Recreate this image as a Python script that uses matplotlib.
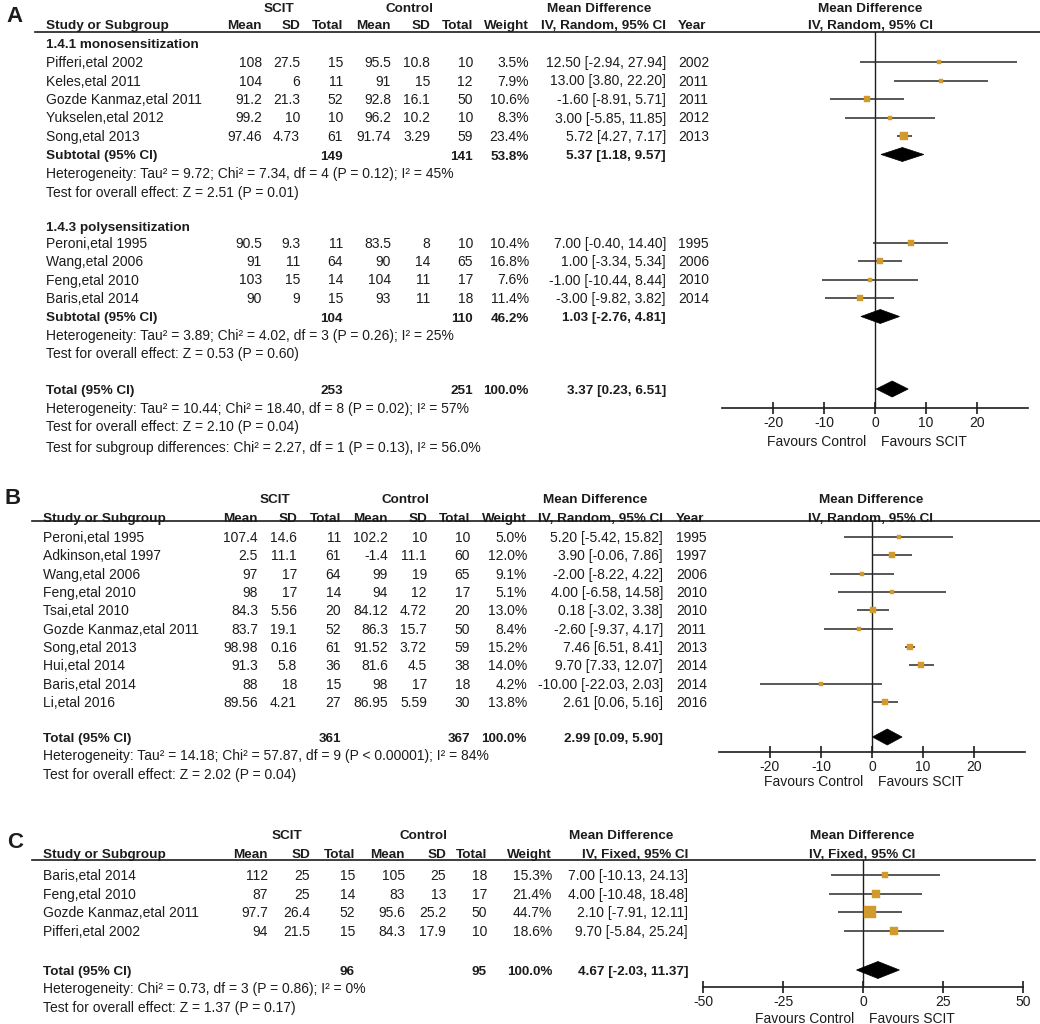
import matplotlib
matplotlib.use('Agg')
import matplotlib.pyplot as plt
from matplotlib.patches import Polygon

plt.rcParams['font.family'] = ['Liberation Sans', 'DejaVu Sans']

# ---------------- DATA ----------------
# Panel A, subgroup 1.4.1 monosensitization
a1_study = ["Pifferi,etal 2002", "Keles,etal 2011", "Gozde Kanmaz,etal 2011",
            "Yukselen,etal 2012", "Song,etal 2013"]
a1_scit_mean = [108, 104, 91.2, 99.2, 97.46]
a1_scit_sd = [27.5, 6, 21.3, 10, 4.73]
a1_scit_n = [15, 11, 52, 10, 61]
a1_ctrl_mean = [95.5, 91, 92.8, 96.2, 91.74]
a1_ctrl_sd = [10.8, 15, 16.1, 10.2, 3.29]
a1_ctrl_n = [10, 12, 50, 10, 59]
a1_weight = [3.5, 7.9, 10.6, 8.3, 23.4]
a1_md = [12.50, 13.00, -1.60, 3.00, 5.72]
a1_lo = [-2.94, 3.80, -8.91, -5.85, 4.27]
a1_hi = [27.94, 22.20, 5.71, 11.85, 7.17]
a1_year = [2002, 2011, 2011, 2012, 2013]
a1_sub = dict(n1=149, n2=141, w=53.8, md=5.37, lo=1.18, hi=9.57)
a1_het = "Heterogeneity: Tau² = 9.72; Chi² = 7.34, df = 4 (P = 0.12); I² = 45%"
a1_test = "Test for overall effect: Z = 2.51 (P = 0.01)"

# Panel A, subgroup 1.4.3 polysensitization
a2_study = ["Peroni,etal 1995", "Wang,etal 2006", "Feng,etal 2010", "Baris,etal 2014"]
a2_scit_mean = [90.5, 91, 103, 90]
a2_scit_sd = [9.3, 11, 15, 9]
a2_scit_n = [11, 64, 14, 15]
a2_ctrl_mean = [83.5, 90, 104, 93]
a2_ctrl_sd = [8, 14, 11, 11]
a2_ctrl_n = [10, 65, 17, 18]
a2_weight = [10.4, 16.8, 7.6, 11.4]
a2_md = [7.00, 1.00, -1.00, -3.00]
a2_lo = [-0.40, -3.34, -10.44, -9.82]
a2_hi = [14.40, 5.34, 8.44, 3.82]
a2_year = [1995, 2006, 2010, 2014]
a2_sub = dict(n1=104, n2=110, w=46.2, md=1.03, lo=-2.76, hi=4.81)
a2_het = "Heterogeneity: Tau² = 3.89; Chi² = 4.02, df = 3 (P = 0.26); I² = 25%"
a2_test = "Test for overall effect: Z = 0.53 (P = 0.60)"

a_total = dict(n1=253, n2=251, w=100.0, md=3.37, lo=0.23, hi=6.51)
a_het = "Heterogeneity: Tau² = 10.44; Chi² = 18.40, df = 8 (P = 0.02); I² = 57%"
a_test = "Test for overall effect: Z = 2.10 (P = 0.04)"
a_subdiff = "Test for subgroup differences: Chi² = 2.27, df = 1 (P = 0.13), I² = 56.0%"

# Panel B
b_study = ["Peroni,etal 1995", "Adkinson,etal 1997", "Wang,etal 2006", "Feng,etal 2010",
           "Tsai,etal 2010", "Gozde Kanmaz,etal 2011", "Song,etal 2013", "Hui,etal 2014",
           "Baris,etal 2014", "Li,etal 2016"]
b_scit_mean = [107.4, 2.5, 97, 98, 84.3, 83.7, 98.98, 91.3, 88, 89.56]
b_scit_sd = [14.6, 11.1, 17, 17, 5.56, 19.1, 0.16, 5.8, 18, 4.21]
b_scit_n = [11, 61, 64, 14, 20, 52, 61, 36, 15, 27]
b_ctrl_mean = [102.2, -1.4, 99, 94, 84.12, 86.3, 91.52, 81.6, 98, 86.95]
b_ctrl_sd = [10, 11.1, 19, 12, 4.72, 15.7, 3.72, 4.5, 17, 5.59]
b_ctrl_n = [10, 60, 65, 17, 20, 50, 59, 38, 18, 30]
b_weight = [5.0, 12.0, 9.1, 5.1, 13.0, 8.4, 15.2, 14.0, 4.2, 13.8]
b_md = [5.20, 3.90, -2.00, 4.00, 0.18, -2.60, 7.46, 9.70, -10.00, 2.61]
b_lo = [-5.42, -0.06, -8.22, -6.58, -3.02, -9.37, 6.51, 7.33, -22.03, 0.06]
b_hi = [15.82, 7.86, 4.22, 14.58, 3.38, 4.17, 8.41, 12.07, 2.03, 5.16]
b_year = [1995, 1997, 2006, 2010, 2010, 2011, 2013, 2014, 2014, 2016]
b_total = dict(n1=361, n2=367, w=100.0, md=2.99, lo=0.09, hi=5.90)
b_het = "Heterogeneity: Tau² = 14.18; Chi² = 57.87, df = 9 (P < 0.00001); I² = 84%"
b_test = "Test for overall effect: Z = 2.02 (P = 0.04)"

# Panel C
c_study = ["Baris,etal 2014", "Feng,etal 2010", "Gozde Kanmaz,etal 2011", "Pifferi,etal 2002"]
c_scit_mean = [112, 87, 97.7, 94]
c_scit_sd = [25, 25, 26.4, 21.5]
c_scit_n = [15, 14, 52, 15]
c_ctrl_mean = [105, 83, 95.6, 84.3]
c_ctrl_sd = [25, 13, 25.2, 17.9]
c_ctrl_n = [18, 17, 50, 10]
c_weight = [15.3, 21.4, 44.7, 18.6]
c_md = [7.00, 4.00, 2.10, 9.70]
c_lo = [-10.13, -10.48, -7.91, -5.84]
c_hi = [24.13, 18.48, 12.11, 25.24]
c_total = dict(n1=96, n2=95, w=100.0, md=4.67, lo=-2.03, hi=11.37)
c_het = "Heterogeneity: Chi² = 0.73, df = 3 (P = 0.86); I² = 0%"
c_test = "Test for overall effect: Z = 1.37 (P = 0.17)"

ticks_ab = [-20, -10, 0, 10, 20]
ticks_c = [-50, -25, 0, 25, 50]

# ---------------- STYLE / LAYOUT ----------------
FS = 10
FSB = 9.7
TXT = '#1c1c1c'
SQ = '#D29A2C'
W, H = 1040, 1024

fig = plt.figure(figsize=(W / 100, H / 100), dpi=100)
bg = fig.add_axes([0, 0, 1, 1])
bg.set_xlim(0, W)
bg.set_ylim(H, 0)
bg.axis('off')


def t(x, y, s, ha='left', bold=False, size=None):
    if size is None:
        size = FSB if bold else FS
    bg.text(x, y + 5, s, ha=ha, va='baseline', fontsize=size,
            fontweight='bold' if bold else 'normal', color=TXT)


def fmt(v):
    return f"{v:g}"


def ci_str(md, lo, hi):
    return f"{md:.2f} [{lo:.2f}, {hi:.2f}]"


def forest_axes(x0, x1, y0, y1, xlim, ticks):
    ax = fig.add_axes([x0 / W, 1 - y1 / H, (x1 - x0) / W, (y1 - y0) / H])
    ax.set_xlim(*xlim)
    ax.set_ylim(y1, y0)
    ax.patch.set_alpha(0)
    for s in ['top', 'right', 'left']:
        ax.spines[s].set_visible(False)
    ax.spines['bottom'].set_linewidth(1.2)
    ax.spines['bottom'].set_color(TXT)
    ax.set_yticks([])
    ax.set_xticks(ticks)
    ax.set_xticklabels([f"{v:g}" for v in ticks])
    ax.tick_params(axis='x', direction='inout', length=9, width=1.2,
                   labelsize=FS, pad=1, colors=TXT)
    ax.axvline(0, color=TXT, lw=1.0)
    return ax


def headers(cols, y_top, y_hdr, y_line, line_x1, ci_label, year=True):
    t(cols['scit_c'], y_top, "SCIT", ha='center', bold=True)
    t(cols['ctrl_c'], y_top, "Control", ha='center', bold=True)
    t(cols['md_c'], y_top, "Mean Difference", ha='center', bold=True)
    t(cols['rmd_c'], y_top, "Mean Difference", ha='center', bold=True)
    t(cols['name'], y_hdr, "Study or Subgroup", bold=True)
    for key, lab in [('m1', 'Mean'), ('sd1', 'SD'), ('n1', 'Total'), ('m2', 'Mean'),
                     ('sd2', 'SD'), ('n2', 'Total'), ('w', 'Weight')]:
        t(cols[key], y_hdr, lab, ha='right', bold=True)
    t(cols['ci'], y_hdr, ci_label, ha='right', bold=True)
    if year:
        t(cols['year'], y_hdr, "Year", bold=True)
    t(cols['rmd_c'], y_hdr, ci_label, ha='center', bold=True)
    bg.plot([cols['line_x0'], line_x1], [y_line, y_line], color=TXT, lw=1.2)


def study_rows(ax, cols, ys, study, m1, sd1, n1, m2, sd2, n2, w, md, lo, hi, year=None):
    for i, y in enumerate(ys):
        t(cols['name'], y, study[i])
        t(cols['m1'], y, fmt(m1[i]), ha='right')
        t(cols['sd1'], y, fmt(sd1[i]), ha='right')
        t(cols['n1'], y, fmt(n1[i]), ha='right')
        t(cols['m2'], y, fmt(m2[i]), ha='right')
        t(cols['sd2'], y, fmt(sd2[i]), ha='right')
        t(cols['n2'], y, fmt(n2[i]), ha='right')
        t(cols['w'], y, f"{w[i]:.1f}%", ha='right')
        t(cols['ci'], y, ci_str(md[i], lo[i], hi[i]), ha='right')
        if year is not None:
            t(cols['year'], y, str(year[i]))
        ax.plot([lo[i], hi[i]], [y, y], color='#2a2a2a', lw=1.1,
                solid_capstyle='butt', clip_on=False)
        side_px = 1.65 * w[i] ** 0.5
        ax.plot([md[i]], [y], marker='s', ls='none', ms=side_px / 1.389,
                mfc=SQ, mec=SQ, mew=0.3, clip_on=False, zorder=3)


def summary_row(ax, cols, y, label, d, half_h=7.5):
    t(cols['name'], y, label, bold=True)
    t(cols['n1'], y, fmt(d['n1']), ha='right', bold=True)
    t(cols['n2'], y, fmt(d['n2']), ha='right', bold=True)
    t(cols['w'], y, f"{d['w']:.1f}%", ha='right', bold=True)
    t(cols['ci'], y, ci_str(d['md'], d['lo'], d['hi']), ha='right', bold=True)
    ax.add_patch(Polygon([[d['lo'], y], [d['md'], y - half_h], [d['hi'], y],
                          [d['md'], y + half_h]], closed=True, fc='black',
                         ec='black', lw=0.5, zorder=3, clip_on=False))


def favours(zero_px, y):
    t(zero_px - 9, y, "Favours Control", ha='right')
    t(zero_px + 6, y, "Favours SCIT", ha='left')


# ---------------- PANEL A ----------------
colsA = dict(name=46, m1=262, sd1=300, n1=343, m2=391, sd2=430, n2=473, w=529,
             ci=666, year=678, scit_c=279, ctrl_c=410, md_c=599, rmd_c=870, line_x0=35)
t(6, 17, "A", bold=True, size=16)
headers(colsA, 7, 24, 32, 1040, "IV, Random, 95% CI")
axA = forest_axes(722, 1028, 32, 408, (-30, 30), ticks_ab)

t(colsA['name'], 43, "1.4.1 monosensitization", bold=True)
study_rows(axA, colsA, [62, 80.5, 99, 117.5, 136], a1_study, a1_scit_mean, a1_scit_sd,
           a1_scit_n, a1_ctrl_mean, a1_ctrl_sd, a1_ctrl_n, a1_weight, a1_md, a1_lo,
           a1_hi, a1_year)
summary_row(axA, colsA, 154.5, "Subtotal (95% CI)", a1_sub, half_h=7)
t(colsA['name'], 173, a1_het)
t(colsA['name'], 191.5, a1_test)

t(colsA['name'], 226, "1.4.3 polysensitization", bold=True)
study_rows(axA, colsA, [243, 261, 279.5, 298], a2_study, a2_scit_mean, a2_scit_sd,
           a2_scit_n, a2_ctrl_mean, a2_ctrl_sd, a2_ctrl_n, a2_weight, a2_md, a2_lo,
           a2_hi, a2_year)
summary_row(axA, colsA, 316.5, "Subtotal (95% CI)", a2_sub, half_h=7)
t(colsA['name'], 335, a2_het)
t(colsA['name'], 353, a2_test)

summary_row(axA, colsA, 389, "Total (95% CI)", a_total, half_h=8)
t(colsA['name'], 407.5, a_het)
t(colsA['name'], 426, a_test)
t(colsA['name'], 447, a_subdiff)
favours(875, 441)

# ---------------- PANEL B ----------------
colsB = dict(name=43, m1=258, sd1=297, n1=341, m2=388, sd2=427, n2=470, w=527,
             ci=663, year=676, scit_c=275, ctrl_c=405, md_c=595, rmd_c=871, line_x0=32)
t(5, 499, "B", bold=True, size=16)
headers(colsB, 498, 517, 521, 1040, "IV, Random, 95% CI")
axB = forest_axes(719, 1025, 521, 752, (-30, 30), ticks_ab)
yB = [537 + 18.33 * i for i in range(len(b_study))]
study_rows(axB, colsB, yB, b_study, b_scit_mean, b_scit_sd, b_scit_n, b_ctrl_mean,
           b_ctrl_sd, b_ctrl_n, b_weight, b_md, b_lo, b_hi, b_year)
summary_row(axB, colsB, 737, "Total (95% CI)", b_total, half_h=8)
t(colsB['name'], 755, b_het)
t(colsB['name'], 773.5, b_test)
favours(872, 781)

# ---------------- PANEL C ----------------
colsC = dict(name=43, m1=268, sd1=310, n1=355, m2=405, sd2=446, n2=487, w=552,
             ci=688, scit_c=287, ctrl_c=424, md_c=621, rmd_c=862, line_x0=32)
t(7, 843, "C", bold=True, size=16)
headers(colsC, 834, 853, 860, 1035, "IV, Fixed, 95% CI", year=False)
axC = forest_axes(703, 1023, 860, 987, (-50, 50), ticks_c)
yC = [875 + 18.7 * i for i in range(len(c_study))]
study_rows(axC, colsC, yC, c_study, c_scit_mean, c_scit_sd, c_scit_n, c_ctrl_mean,
           c_ctrl_sd, c_ctrl_n, c_weight, c_md, c_lo, c_hi)
summary_row(axC, colsC, 970, "Total (95% CI)", c_total, half_h=8.5)
t(colsC['name'], 988.5, c_het)
t(colsC['name'], 1007, c_test)
favours(863, 1018)

fig.savefig("out.png", dpi=100)
